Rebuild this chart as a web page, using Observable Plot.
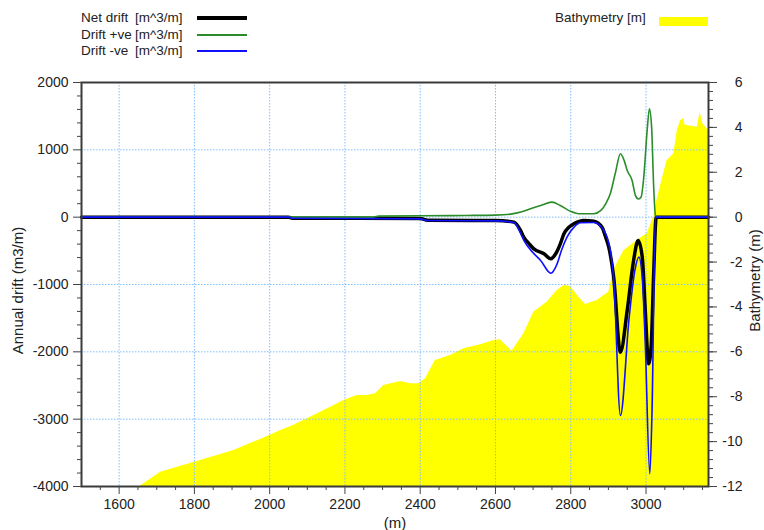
<!DOCTYPE html>
<html><head><meta charset="utf-8">
<script src="https://cdn.jsdelivr.net/npm/d3@7"></script>
<script src="https://cdn.jsdelivr.net/npm/@observablehq/plot@0.6"></script>
<style>
body{margin:0;background:#fff;font-family:"Liberation Sans",Arial,sans-serif;}
#wrap{position:relative;width:764px;height:530px;overflow:hidden;}
.lg{position:absolute;font-size:13.5px;color:#222;line-height:16px;white-space:nowrap;}
.sw{position:absolute;}
</style></head><body><div id="wrap"></div>
<script>
// ---- data ----
const xTicks = [1600, 1800, 2000, 2200, 2400, 2600, 2800, 3000];
const driftTicks = [-4000, -3000, -2000, -1000, 0, 1000, 2000];
const bathyTicks = [-12, -10, -8, -6, -4, -2, 0, 2, 4, 6];

const netX = [1500,2050,2060,2400,2420,2600,2649,2665,2675,2690,2702,2729,2747,2760,2772,2782,2795,2808,2835,2861,2883,2893,2901,2914,2932,2950,2967,2979,2990,2998,3007,3014,3020,3027,3166];
const netY = [0,0,-15,-20,-45,-50,-74,-180,-297,-400,-470,-544,-618,-544,-400,-247,-150,-99,-50,-59,-148,-300,-446,-891,-2005,-1386,-643,-346,-594,-1386,-2178,-1881,-891,0,0];

const posX = [1500,2270,2290,2400,2520,2600,2640,2670,2693,2720,2750,2772,2799,2826,2861,2880,2895,2905,2919,2932,2942,2950,2963,2972,2980,2987,2994,3003,3009,3015,3020,3025,3030,3166];
const posY = [0,0,15,20,25,30,45,80,125,174,223,174,89,50,50,100,220,348,668,941,840,694,545,320,270,300,594,1288,1610,1320,496,25,0,0];

const negX = [1500,2050,2060,2400,2420,2600,2649,2665,2675,2700,2720,2747,2764,2775,2790,2810,2826,2861,2888,2905,2914,2932,2955,2970,2981,2990,2998,3010,3016,3025,3166];
const negY = [0,0,-15,-25,-50,-55,-80,-220,-340,-530,-643,-832,-690,-500,-297,-140,-84,-80,-198,-493,-900,-2945,-1500,-800,-594,-900,-1881,-3811,-2871,0,0];

const bathX = [1655,1710,1800,1905,2000,2029,2060,2108,2162,2197,2232,2259,2281,2303,2348,2374,2396,2414,2440,2480,2516,2560,2596,2613,2644,2675,2702,2737,2764,2782,2799,2821,2839,2870,2901,2914,2941,2976,3003,3020,3029,3042,3056,3074,3083,3092,3100,3104,3136,3144,3151,3166];
const bathDepth = [-12,-11.36,-10.92,-10.4,-9.73,-9.5,-9.3,-8.91,-8.47,-8.17,-7.95,-7.95,-7.87,-7.5,-7.32,-7.42,-7.42,-7.2,-6.39,-6.16,-5.86,-5.68,-5.49,-5.46,-5.97,-5.2,-4.23,-3.79,-3.27,-3.04,-3.09,-3.56,-3.89,-3.71,-3.34,-2.37,-1.5,-1.04,-0.74,0,0.74,1.63,2.53,2.83,3.86,4.31,4.38,4.09,4.01,4.68,4.16,3.86];

// ---- build ----
const S = 1000 / 3; // drift units per metre of bathymetry (right axis -12..6 ↔ left -4000..2000)
const toRows = (xs, ys, k = 1) => xs.map((x, i) => ({x, y: ys[i] * k}));
const net = toRows(netX, netY), pos = toRows(posX, posY), neg = toRows(negX, negY);
const bath = toRows(bathX, bathDepth, S);

const minorX = d3.range(1550, 3166, 50).filter(v => !xTicks.includes(v));
const minorY = d3.range(-4000, 2001, 200).filter(v => !driftTicks.includes(v));
const minorB = d3.range(0, 46).map(i => (-12 + 0.4 * i) * S);
const gridCol = "#80bfff";
const txt = "#222";

const chart = Plot.plot({
  width: 764, height: 530,
  marginLeft: 81, marginRight: 56, marginTop: 82, marginBottom: 44,
  style: {fontFamily: "'Liberation Sans', Arial, sans-serif", fontSize: "14px", color: txt, background: "#fff"},
  x: {domain: [1500, 3166]},
  y: {domain: [-4000, 2000]},
  marks: [
    Plot.areaY(bath, {x: "x", y1: -4000, y2: "y", fill: "#ffff00", curve: "linear"}),
    Plot.gridX(xTicks, {stroke: gridCol, strokeOpacity: 1, strokeDasharray: "1.5,1.5"}),
    Plot.gridY(driftTicks.filter(v => v > -4000 && v < 2000), {stroke: gridCol, strokeOpacity: 1, strokeDasharray: "1.5,1.5"}),
    Plot.line(net, {x: "x", y: "y", stroke: "#000", strokeWidth: 3.5, curve: "monotone-x"}),
    Plot.line(pos, {x: "x", y: "y", stroke: "#2a8c2a", strokeWidth: 1.6, curve: "monotone-x"}),
    Plot.line(neg, {x: "x", y: "y", stroke: "#1010ff", strokeWidth: 1.6, curve: "monotone-x"}),
    Plot.frame({stroke: "#3a3a3a", strokeWidth: 2}),
    Plot.axisX({ticks: xTicks, tickSize: 8, tickPadding: 5, tickFormat: d => String(d), label: null, fontSize: 14, stroke: "#444"}),
    Plot.axisX({ticks: minorX, tickSize: 4, tickFormat: () => "", label: null, stroke: "#444"}),
    Plot.axisY({ticks: driftTicks, tickSize: 8, tickPadding: 5, tickFormat: d => String(d), label: null, fontSize: 14, stroke: "#444"}),
    Plot.axisY({ticks: minorY, tickSize: 4, tickFormat: () => "", label: null, stroke: "#444"}),
    Plot.axisY({anchor: "right", ticks: bathyTicks.map(b => b * S), tickSize: 8, tickPadding: 26, textAnchor: "end",
      tickFormat: d => String(Math.round(d / S)), label: null, fontSize: 14, stroke: "#444"}),
    Plot.axisY({anchor: "right", ticks: minorB, tickSize: 4, tickFormat: () => "", label: null, stroke: "#444"}),
    Plot.text(["Annual drift (m3/m)"], {frameAnchor: "left", rotate: -90, textAnchor: "middle", lineAnchor: "middle", dx: -63, dy: 6, fontSize: 15, fill: txt}),
    Plot.text(["Bathymetry (m)"], {frameAnchor: "right", rotate: -90, textAnchor: "middle", lineAnchor: "middle", dx: 47, dy: -4, fontSize: 15, fill: txt}),
    Plot.text(["(m)"], {frameAnchor: "bottom", textAnchor: "middle", lineAnchor: "middle", dy: 37, fontSize: 15, fill: txt})
  ]
});

const wrap = document.getElementById("wrap");
wrap.appendChild(chart);

// ---- legend (HTML overlay above the plot frame) ----
const legendNames = ["Net drift", "Drift +ve", "Drift -ve"];
const legendUnit = "[m^3/m]";
const legendColors = ["#000", "#2a8c2a", "#1010ff"];
const legendWidths = [3.5, 2, 2];
const rowsY = [18, 34.5, 51];
legendNames.forEach((n, i) => {
  const a = document.createElement("div");
  a.className = "lg"; a.style.left = "81px"; a.style.top = (rowsY[i] - 8) + "px"; a.textContent = n;
  wrap.appendChild(a);
  const b = document.createElement("div");
  b.className = "lg"; b.style.left = "135px"; b.style.top = (rowsY[i] - 8) + "px"; b.textContent = legendUnit;
  wrap.appendChild(b);
  const s = document.createElement("div");
  s.className = "sw"; s.style.left = "197px"; s.style.width = "50px";
  s.style.top = (rowsY[i] - legendWidths[i] / 2) + "px"; s.style.height = legendWidths[i] + "px";
  s.style.background = legendColors[i];
  wrap.appendChild(s);
});
const bl = document.createElement("div");
bl.className = "lg"; bl.style.left = "555px"; bl.style.top = "10px"; bl.textContent = "Bathymetry [m]";
wrap.appendChild(bl);
const bs = document.createElement("div");
bs.className = "sw"; bs.style.left = "659px"; bs.style.top = "17px"; bs.style.width = "49px"; bs.style.height = "9px";
bs.style.background = "#ffff00";
wrap.appendChild(bs);
</script></body></html>
